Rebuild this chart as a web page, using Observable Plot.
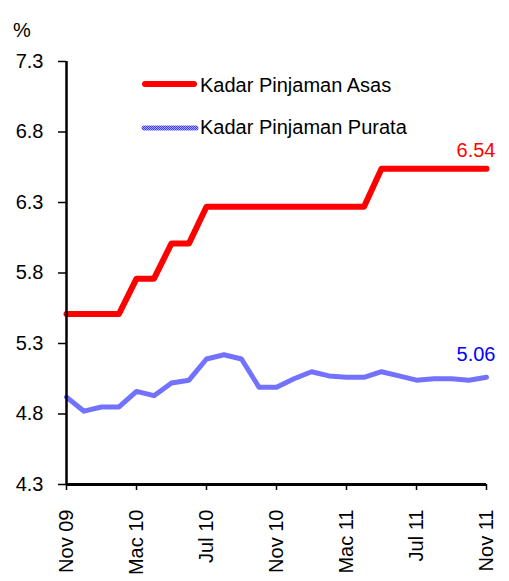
<!DOCTYPE html>
<html>
<head>
<meta charset="utf-8">
<script src="https://cdn.jsdelivr.net/npm/d3@7"></script>
<script src="https://cdn.jsdelivr.net/npm/@observablehq/plot@0.6"></script>
<style>
  html, body { margin: 0; padding: 0; background: #fff; }
  #wrap { position: relative; width: 509px; height: 581px; font-family: "Liberation Sans", Arial, sans-serif; }
  #overlay { position: absolute; left: 0; top: 0; pointer-events: none; }
</style>
</head>
<body>
<div id="wrap">
  <svg id="overlay" width="509" height="150" xmlns="http://www.w3.org/2000/svg">
    <defs>
      <pattern id="chk" patternUnits="userSpaceOnUse" width="2" height="2">
        <rect x="0" y="0" width="2" height="2" fill="#aaaaff"></rect>
        <rect x="0" y="0" width="1" height="1" fill="#3a3aff"></rect>
        <rect x="1" y="1" width="1" height="1" fill="#3a3aff"></rect>
      </pattern>
    </defs>
    <text x="13" y="37" font-size="20" fill="#000" font-family="Liberation Sans, Arial, sans-serif">%</text>
    <line x1="145" y1="84" x2="194" y2="84" stroke="#ff0000" stroke-width="6" stroke-linecap="round"></line>
    <text x="200" y="91.5" font-size="20" fill="#000" font-family="Liberation Sans, Arial, sans-serif">Kadar Pinjaman Asas</text>
    <line x1="144" y1="128" x2="196" y2="128" stroke="url(#chk)" stroke-width="5" stroke-linecap="round"></line>
    <text x="200" y="134" font-size="20" fill="#000" font-family="Liberation Sans, Arial, sans-serif">Kadar Pinjaman Purata</text>
  </svg>
</div>
<script>
// Months (Malay abbreviations), Nov 2009 – Nov 2011
const months = ["Nov 09","Dis 09","Jan 10","Feb 10","Mac 10","Apr 10","Mei 10","Jun 10","Jul 10","Ogo 10","Sep 10","Okt 10",
                "Nov 10","Dis 10","Jan 11","Feb 11","Mac 11","Apr 11","Mei 11","Jun 11","Jul 11","Ogo 11","Sep 11","Okt 11","Nov 11"];
// Kadar Pinjaman Asas (base lending rate)
const blr = [5.51,5.51,5.51,5.51,5.76,5.76,6.01,6.01,6.27,6.27,6.27,6.27,6.27,6.27,6.27,6.27,6.27,6.27,6.54,6.54,6.54,6.54,6.54,6.54,6.54];
// Kadar Pinjaman Purata (average lending rate)
const alr = [4.92,4.82,4.85,4.85,4.96,4.93,5.02,5.04,5.19,5.22,5.19,4.99,4.99,5.05,5.10,5.07,5.06,5.06,5.10,5.07,5.04,5.05,5.05,5.04,5.06];
const xTicks = ["Nov 09","Mac 10","Jul 10","Nov 10","Mac 11","Jul 11","Nov 11"];
const yTicks = [4.3, 4.8, 5.3, 5.8, 6.3, 6.8, 7.3];

const blrRows = months.map((m, i) => ({month: m, value: blr[i]}));
const alrRows = months.map((m, i) => ({month: m, value: alr[i]}));

const chart = Plot.plot({
  width: 509,
  height: 581,
  marginLeft: 66,
  marginRight: 23,
  marginTop: 61,
  marginBottom: 97,
  style: {fontFamily: "Liberation Sans, Arial, sans-serif", fontSize: "20px", background: "transparent", overflow: "visible"},
  x: {type: "point", domain: months, padding: 0, round: false},
  y: {domain: [4.3, 7.3]},
  marks: [
    Plot.axisY({ticks: yTicks, tickFormat: d => d.toFixed(1), tickSize: 8, tickPadding: 15, fontSize: 20, strokeWidth: 1.5, label: null}),
    Plot.axisX({ticks: xTicks, tickSize: 6, tickPadding: 19, tickRotate: -90, fontSize: 20, strokeWidth: 1.5, label: null}),
    Plot.line(alrRows, {x: "month", y: "value", stroke: "url(#chk)", strokeWidth: 5, strokeLinejoin: "round", strokeLinecap: "round"}),
    Plot.line(blrRows, {x: "month", y: "value", stroke: "#ff0000", strokeWidth: 6, strokeLinejoin: "round", strokeLinecap: "round"}),
    Plot.ruleX([months[0]], {stroke: "#000", strokeWidth: 2.5}),
    Plot.ruleY([4.3], {stroke: "#000", strokeWidth: 3}),
    Plot.text(blrRows.slice(-1), {x: "month", y: "value", text: d => d.value.toFixed(2), textAnchor: "end", dx: 9, dy: -18, fill: "#ff0000", fontSize: 20}),
    Plot.text(alrRows.slice(-1), {x: "month", y: "value", text: d => d.value.toFixed(2), textAnchor: "end", dx: 9, dy: -23, fill: "#0000ff", fontSize: 20})
  ]
});
document.getElementById("wrap").insertBefore(chart, document.getElementById("overlay"));
</script>
</body>
</html>
